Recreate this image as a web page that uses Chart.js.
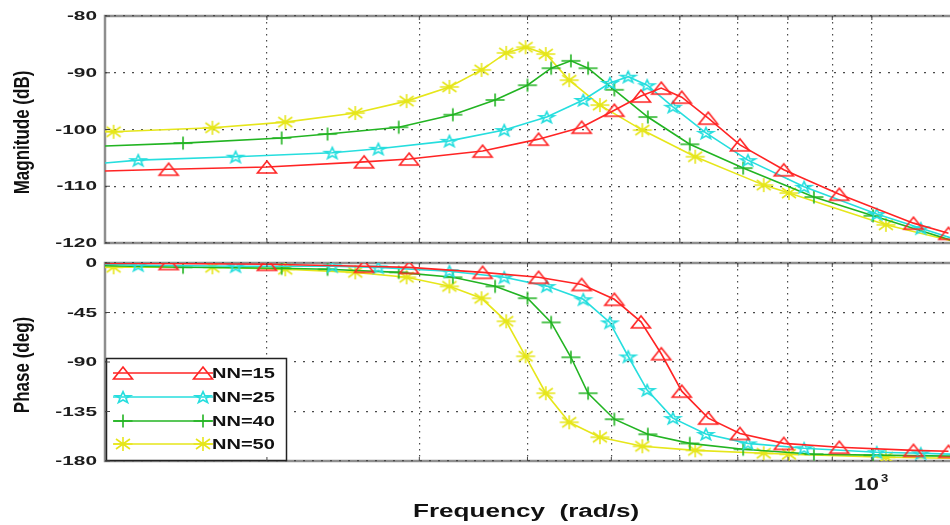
<!DOCTYPE html>
<html lang="en">
<head>
<meta charset="UTF-8">
<title>Bode diagram NN</title>
<script src="https://cdn.jsdelivr.net/npm/chart.js"></script>
<style>
  body { margin: 0; background: #fff; overflow: hidden; }
  .wrap { position: relative; width: 950px; height: 525px; }
  .wrap canvas { position: absolute; left: 0; top: 0; }
</style>
</head>
<body>
<div class="wrap">
  <canvas id="magChart" width="950" height="525"></canvas>
  <canvas id="phaseChart" width="950" height="525"></canvas>
</div>
<script>
// frequencies (rad/s), one list per curve
const freq15 = [130, 154, 200, 259, 292, 355, 412, 462, 504, 541, 571, 603, 647, 704, 791, 917, 1117, 1226];
const mag15 = [-107.3, -107.0, -106.6, -105.7, -105.2, -103.8, -101.7, -99.6, -96.6, -94.1, -92.7, -94.3, -98.0, -102.7, -107.1, -111.4, -116.5, -118.3];
const phase15 = [-0.5, -0.5, -1.2, -3, -4, -8.5, -13, -19.5, -33, -53.5, -82.5, -116.5, -141, -155, -164, -167.5, -170.3, -171.2];

const freq25 = [130, 142, 184, 238, 269, 325, 376, 421, 464, 498, 523, 550, 589, 643, 719, 835, 1013, 1139, 1234];
const mag25 = [-105.9, -105.4, -104.8, -104.1, -103.4, -102.0, -100.1, -97.8, -94.8, -91.8, -90.7, -92.2, -96.0, -100.6, -105.4, -110.1, -114.9, -117.4, -119.1];
const phase25 = [-1.2, -2, -3, -3, -4, -7.5, -13, -21, -33, -54, -85, -115.5, -141, -155.5, -164, -168.4, -172, -173, -173.8];

const freq40 = [130, 160, 208, 235, 284, 328, 367, 400, 426, 449, 470, 504, 551, 616, 710, 857, 1003, 1234];
const mag40 = [-102.9, -102.4, -101.5, -100.8, -99.6, -97.4, -94.8, -92.2, -89.2, -87.9, -89.2, -93.0, -97.8, -102.6, -106.8, -111.9, -115.2, -119.5];
const phase40 = [-2.5, -3.9, -4.8, -5.7, -8.5, -13, -21.2, -32, -54, -85.7, -118.4, -142, -155.7, -164, -169.3, -173.8, -174.7, -175.6];

const freq50 = [130, 133, 173, 210, 253, 290, 325, 354, 378, 398, 420, 447, 485, 543, 625, 750, 802, 1038, 1234];
const mag50 = [-100.3, -100.4, -99.7, -98.7, -97.1, -95.0, -92.5, -89.5, -86.5, -85.5, -86.7, -91.3, -95.7, -100.1, -104.8, -109.8, -111.2, -116.8, -119.6];
const phase50 = [-3.9, -3.9, -3.9, -5.7, -8.5, -13, -21.2, -32.1, -53, -84.8, -118.4, -144.8, -158.4, -166.6, -170.3, -173, -173.9, -176.6, -177.5];

const seriesLabels = ['NN=15', 'NN=25', 'NN=40', 'NN=50'];
const magTicks = [-80, -90, -100, -110, -120];
const phaseTicks = [0, -45, -90, -135, -180];
const freqGrid = [200, 300, 400, 500, 600, 700, 800, 900, 1000];
const freqMin = 130, freqMax = 1231;

const FONT = '"Liberation Sans", Arial, sans-serif';

// marker images (the picture is stretched sideways, so the markers are too)
function makeMarker(kind, color) {
    const c = document.createElement('canvas');
    c.width = 24; c.height = 18;
    const g = c.getContext('2d');
    const cx = 12, cy = 9;
    g.strokeStyle = color;
    g.lineWidth = 1.6;
    g.beginPath();
    if (kind === 'triangle') {
        g.moveTo(cx, cy - 6);
        g.lineTo(cx + 9.5, cy + 6);
        g.lineTo(cx - 9.5, cy + 6);
        g.closePath();
    } else if (kind === 'pentagram') {
        for (let i = 0; i < 10; i++) {
            const r = i % 2 ? 0.4 : 1;
            const a = -Math.PI / 2 + i * Math.PI / 5;
            const px = cx + Math.cos(a) * 7.8 * r;
            const py = cy + 0.6 + Math.sin(a) * 6.0 * r;
            if (i === 0) g.moveTo(px, py); else g.lineTo(px, py);
        }
        g.closePath();
    } else if (kind === 'plus') {
        g.moveTo(cx - 9.5, cy); g.lineTo(cx + 9.5, cy);
        g.moveTo(cx, cy - 6.5); g.lineTo(cx, cy + 6.5);
    } else {
        g.moveTo(cx - 9.5, cy); g.lineTo(cx + 9.5, cy);
        g.moveTo(cx, cy - 7); g.lineTo(cx, cy + 7);
        g.moveTo(cx - 7, cy - 5); g.lineTo(cx + 7, cy + 5);
        g.moveTo(cx - 7, cy + 5); g.lineTo(cx + 7, cy - 5);
    }
    g.stroke();
    return c;
}

const colors = ['#ff2424', '#26dede', '#22b422', '#e6e61a'];
const markers = [
    makeMarker('triangle', colors[0]),
    makeMarker('pentagram', colors[1]),
    makeMarker('plus', colors[2]),
    makeMarker('asterisk', colors[3])
];

function pairs(xs, ys) {
    return xs.map((x, i) => ({ x: x, y: ys[i] }));
}

function buildDatasets(lists) {
    return lists.map((ys, k) => ({
        label: seriesLabels[k],
        data: pairs([freq15, freq25, freq40, freq50][k], ys),
        borderColor: colors[k],
        backgroundColor: colors[k],
        borderWidth: 1.6,
        tension: 0,
        fill: false,
        pointStyle: markers[k],
        pointRadius: ctx => (ctx.dataIndex === 0 || ctx.raw.x > freqMax) ? 0 : 5
    }));
}

function stretchText(ctx, text, x, y, sx, align) {
    ctx.save();
    ctx.translate(x, y);
    ctx.scale(sx, 1);
    ctx.textAlign = align;
    ctx.fillText(text, 0, 0);
    ctx.restore();
}

function xScale() {
    return {
        type: 'logarithmic',
        min: freqMin,
        max: freqMax,
        afterBuildTicks: s => { s.ticks = freqGrid.map(v => ({ value: v })); },
        ticks: { display: false },
        grid: { color: '#4a4a4a', lineWidth: 1.2, drawTicks: false },
        border: { display: false, dash: [1.5, 4.5] }
    };
}

function yScale(lo, hi, tickList) {
    return {
        min: lo,
        max: hi,
        afterBuildTicks: s => { s.ticks = tickList.map(v => ({ value: v })); },
        ticks: { display: false },
        grid: { color: '#4a4a4a', lineWidth: 1.2, drawTicks: false },
        border: { display: false, dash: [2, 7] }
    };
}

// gray MATLAB style frame, drawn under the grid
const framePlugin = {
    id: 'frame',
    beforeDraw(chart) {
        const { ctx, chartArea: a } = chart;
        ctx.save();
        ctx.strokeStyle = '#8e8e8e';
        ctx.lineWidth = 2.5;
        ctx.beginPath();
        ctx.moveTo(952, a.top);
        ctx.lineTo(a.left, a.top);
        ctx.lineTo(a.left, a.bottom);
        ctx.lineTo(952, a.bottom);
        ctx.stroke();
        ctx.restore();
    },
    afterDraw(chart, args, opts) {
        const { ctx, chartArea: a } = chart;
        const ys = chart.scales.y;
        const xs = chart.scales.x;
        ctx.save();
        // small inward tick marks
        ctx.strokeStyle = '#444';
        ctx.lineWidth = 1;
        ctx.beginPath();
        opts.ticks.forEach(v => {
            const y = ys.getPixelForValue(v);
            ctx.moveTo(a.left, y); ctx.lineTo(a.left + 5, y);
        });
        freqGrid.forEach(v => {
            const x = xs.getPixelForValue(v);
            ctx.moveTo(x, a.top); ctx.lineTo(x, a.top + 4);
            ctx.moveTo(x, a.bottom); ctx.lineTo(x, a.bottom - 4);
        });
        ctx.stroke();
        // tick labels
        ctx.fillStyle = '#1c1c1c';
        ctx.font = 'bold 13px ' + FONT;
        ctx.textBaseline = 'middle';
        opts.ticks.forEach(v => {
            stretchText(ctx, String(v), 97, ys.getPixelForValue(v) + 0.5, 1.6, 'right');
        });
        // y axis title
        ctx.fillStyle = '#111';
        ctx.font = 'bold 17px ' + FONT;
        ctx.translate(23, (a.top + a.bottom) / 2 + opts.titleShift);
        ctx.rotate(-Math.PI / 2);
        ctx.scale(1, 1.3);
        ctx.textAlign = 'center';
        ctx.textBaseline = 'middle';
        ctx.fillText(opts.title, 0, 0);
        ctx.restore();
    }
};

// legend with a line and a marker at each end, and x axis texts
const legendPlugin = {
    id: 'bodeLegend',
    afterDatasetsDraw(chart) {
        const ctx = chart.ctx;
        const rows = [373, 397, 421, 444];
        ctx.save();
        ctx.fillStyle = '#fff';
        ctx.fillRect(106, 358, 181, 103);
        ctx.strokeStyle = '#222';
        ctx.lineWidth = 1.5;
        ctx.strokeRect(106.5, 358.5, 180, 102);
        rows.forEach((y, k) => {
            ctx.strokeStyle = colors[k];
            ctx.lineWidth = 1.6;
            ctx.beginPath();
            ctx.moveTo(113, y); ctx.lineTo(213, y);
            ctx.stroke();
            [123, 203].forEach(x => ctx.drawImage(markers[k], x - 12, y - 9));
            ctx.fillStyle = '#111';
            ctx.font = 'bold 14px ' + FONT;
            ctx.textBaseline = 'middle';
            stretchText(ctx, seriesLabels[k], 212, y + 1, 1.43, 'left');
        });
        ctx.restore();
    },
    afterDraw(chart) {
        const ctx = chart.ctx;
        const x1000 = chart.scales.x.getPixelForValue(1000);
        ctx.save();
        ctx.fillStyle = '#1c1c1c';
        ctx.textBaseline = 'alphabetic';
        ctx.font = 'bold 16px ' + FONT;
        stretchText(ctx, '10', x1000 + 7, 490, 1.4, 'right');
        ctx.font = 'bold 10px ' + FONT;
        stretchText(ctx, '3', x1000 + 9, 482, 1.3, 'left');
        ctx.fillStyle = '#111';
        ctx.font = 'bold 18px ' + FONT;
        stretchText(ctx, 'Frequency  (rad/s)', 413, 517, 1.45, 'left');
        ctx.restore();
    }
};

const common = {
    responsive: false,
    animation: false,
    events: [],
    plugins: { legend: { display: false }, tooltip: { enabled: false } }
};

new Chart(document.getElementById('magChart'), {
    type: 'line',
    data: { datasets: buildDatasets([mag15, mag25, mag40, mag50]) },
    options: Object.assign({}, common, {
        layout: { autoPadding: false, padding: { left: 105, top: 16, right: 0, bottom: 282 } },
        scales: { x: xScale(), y: yScale(-120, -80, magTicks) },
        plugins: Object.assign({}, common.plugins, {
            frame: { ticks: magTicks, title: 'Magnitude (dB)', titleShift: 3 }
        })
    }),
    plugins: [framePlugin]
});

new Chart(document.getElementById('phaseChart'), {
    type: 'line',
    data: { datasets: buildDatasets([phase15, phase25, phase40, phase50]) },
    options: Object.assign({}, common, {
        layout: { autoPadding: false, padding: { left: 105, top: 263, right: 0, bottom: 64 } },
        scales: { x: xScale(), y: yScale(-180, 0, phaseTicks) },
        plugins: Object.assign({}, common.plugins, {
            frame: { ticks: phaseTicks, title: 'Phase (deg)', titleShift: 3 }
        })
    }),
    plugins: [framePlugin, legendPlugin]
});
</script>
</body>
</html>
